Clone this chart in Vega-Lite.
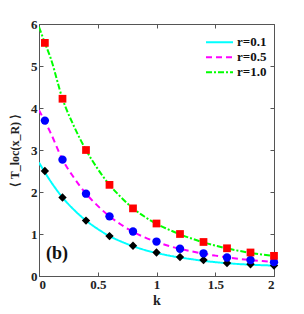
{
  "$schema": "https://vega.github.io/schema/vega-lite/v6.json",
  "autosize": {"type": "none"},
  "padding": {"left": 39, "top": 24, "right": 30, "bottom": 38},
  "width": 235,
  "height": 252,
  "background": "white",
  "config": {
    "font": "Liberation Serif",
    "view": {"stroke": "#555555", "strokeWidth": 1},
    "axis": {
      "labelFont": "Liberation Serif", "labelFontWeight": "bold", "labelFontSize": 13, "labelColor": "#222",
      "titleFont": "Liberation Serif", "titleFontWeight": "bold", "titleFontSize": 14, "titleColor": "#222",
      "grid": false, "domainColor": "#555555", "tickColor": "#555555", "tickSize": -4, "labelPadding": 6
    }
  },
  "datasets": {
    "lines": [
      {"k": 0.0, "v": 2.70, "s": "r=0.1"}, {"k": 0.1, "v": 2.25, "s": "r=0.1"}, {"k": 0.2, "v": 1.87, "s": "r=0.1"}, {"k": 0.3, "v": 1.57, "s": "r=0.1"}, {"k": 0.4, "v": 1.32, "s": "r=0.1"}, {"k": 0.5, "v": 1.12, "s": "r=0.1"}, {"k": 0.6, "v": 0.95, "s": "r=0.1"}, {"k": 0.7, "v": 0.82, "s": "r=0.1"}, {"k": 0.8, "v": 0.71, "s": "r=0.1"}, {"k": 0.9, "v": 0.62, "s": "r=0.1"}, {"k": 1.0, "v": 0.55, "s": "r=0.1"}, {"k": 1.1, "v": 0.49, "s": "r=0.1"}, {"k": 1.2, "v": 0.44, "s": "r=0.1"}, {"k": 1.3, "v": 0.40, "s": "r=0.1"}, {"k": 1.4, "v": 0.36, "s": "r=0.1"}, {"k": 1.5, "v": 0.33, "s": "r=0.1"}, {"k": 1.6, "v": 0.305, "s": "r=0.1"}, {"k": 1.7, "v": 0.285, "s": "r=0.1"}, {"k": 1.8, "v": 0.27, "s": "r=0.1"}, {"k": 1.9, "v": 0.258, "s": "r=0.1"}, {"k": 2.0, "v": 0.248, "s": "r=0.1"},
      {"k": 0.0, "v": 3.95, "s": "r=0.5"}, {"k": 0.05, "v": 3.68, "s": "r=0.5"}, {"k": 0.1, "v": 3.40, "s": "r=0.5"}, {"k": 0.2, "v": 2.77, "s": "r=0.5"}, {"k": 0.3, "v": 2.33, "s": "r=0.5"}, {"k": 0.4, "v": 1.96, "s": "r=0.5"}, {"k": 0.5, "v": 1.67, "s": "r=0.5"}, {"k": 0.6, "v": 1.42, "s": "r=0.5"}, {"k": 0.7, "v": 1.22, "s": "r=0.5"}, {"k": 0.8, "v": 1.05, "s": "r=0.5"}, {"k": 0.9, "v": 0.92, "s": "r=0.5"}, {"k": 1.0, "v": 0.81, "s": "r=0.5"}, {"k": 1.1, "v": 0.72, "s": "r=0.5"}, {"k": 1.2, "v": 0.645, "s": "r=0.5"}, {"k": 1.3, "v": 0.585, "s": "r=0.5"}, {"k": 1.4, "v": 0.53, "s": "r=0.5"}, {"k": 1.5, "v": 0.485, "s": "r=0.5"}, {"k": 1.6, "v": 0.445, "s": "r=0.5"}, {"k": 1.7, "v": 0.41, "s": "r=0.5"}, {"k": 1.8, "v": 0.38, "s": "r=0.5"}, {"k": 1.9, "v": 0.355, "s": "r=0.5"}, {"k": 2.0, "v": 0.335, "s": "r=0.5"},
      {"k": 0.0, "v": 5.93, "s": "r=1.0"}, {"k": 0.05, "v": 5.55, "s": "r=1.0"}, {"k": 0.1, "v": 5.18, "s": "r=1.0"}, {"k": 0.2, "v": 4.22, "s": "r=1.0"}, {"k": 0.3, "v": 3.55, "s": "r=1.0"}, {"k": 0.4, "v": 3.00, "s": "r=1.0"}, {"k": 0.5, "v": 2.55, "s": "r=1.0"}, {"k": 0.6, "v": 2.17, "s": "r=1.0"}, {"k": 0.7, "v": 1.87, "s": "r=1.0"}, {"k": 0.8, "v": 1.61, "s": "r=1.0"}, {"k": 0.9, "v": 1.41, "s": "r=1.0"}, {"k": 1.0, "v": 1.24, "s": "r=1.0"}, {"k": 1.1, "v": 1.11, "s": "r=1.0"}, {"k": 1.2, "v": 0.99, "s": "r=1.0"}, {"k": 1.3, "v": 0.89, "s": "r=1.0"}, {"k": 1.4, "v": 0.80, "s": "r=1.0"}, {"k": 1.5, "v": 0.725, "s": "r=1.0"}, {"k": 1.6, "v": 0.655, "s": "r=1.0"}, {"k": 1.7, "v": 0.60, "s": "r=1.0"}, {"k": 1.8, "v": 0.55, "s": "r=1.0"}, {"k": 1.9, "v": 0.51, "s": "r=1.0"}, {"k": 2.0, "v": 0.475, "s": "r=1.0"}
    ],
    "points": [
      {"k": 0.05, "v": 2.50, "s": "r=0.1"}, {"k": 0.2, "v": 1.87, "s": "r=0.1"}, {"k": 0.4, "v": 1.32, "s": "r=0.1"}, {"k": 0.6, "v": 0.95, "s": "r=0.1"}, {"k": 0.8, "v": 0.72, "s": "r=0.1"}, {"k": 1.0, "v": 0.56, "s": "r=0.1"}, {"k": 1.2, "v": 0.45, "s": "r=0.1"}, {"k": 1.4, "v": 0.38, "s": "r=0.1"}, {"k": 1.6, "v": 0.31, "s": "r=0.1"}, {"k": 1.8, "v": 0.28, "s": "r=0.1"}, {"k": 2.0, "v": 0.25, "s": "r=0.1"},
      {"k": 0.05, "v": 3.70, "s": "r=0.5"}, {"k": 0.2, "v": 2.77, "s": "r=0.5"}, {"k": 0.4, "v": 1.96, "s": "r=0.5"}, {"k": 0.6, "v": 1.42, "s": "r=0.5"}, {"k": 0.8, "v": 1.06, "s": "r=0.5"}, {"k": 1.0, "v": 0.82, "s": "r=0.5"}, {"k": 1.2, "v": 0.65, "s": "r=0.5"}, {"k": 1.4, "v": 0.54, "s": "r=0.5"}, {"k": 1.6, "v": 0.44, "s": "r=0.5"}, {"k": 1.8, "v": 0.38, "s": "r=0.5"}, {"k": 2.0, "v": 0.33, "s": "r=0.5"},
      {"k": 0.05, "v": 5.55, "s": "r=1.0"}, {"k": 0.2, "v": 4.22, "s": "r=1.0"}, {"k": 0.4, "v": 3.00, "s": "r=1.0"}, {"k": 0.6, "v": 2.17, "s": "r=1.0"}, {"k": 0.8, "v": 1.61, "s": "r=1.0"}, {"k": 1.0, "v": 1.25, "s": "r=1.0"}, {"k": 1.2, "v": 1.00, "s": "r=1.0"}, {"k": 1.4, "v": 0.81, "s": "r=1.0"}, {"k": 1.6, "v": 0.66, "s": "r=1.0"}, {"k": 1.8, "v": 0.56, "s": "r=1.0"}, {"k": 2.0, "v": 0.48, "s": "r=1.0"}
    ]
  },
  "layer": [
    {
      "data": {"name": "lines"},
      "mark": {"type": "line", "interpolate": "monotone", "strokeWidth": 2, "clip": true},
      "encoding": {
        "x": {"field": "k", "type": "quantitative", "scale": {"domain": [0, 2], "nice": false, "zero": false}, "axis": {"title": "k", "values": [0, 0.5, 1, 1.5, 2], "format": "~g", "titlePadding": 2}},
        "y": {"field": "v", "type": "quantitative", "scale": {"domain": [0, 6], "nice": false}, "axis": {"title": "⟨ T_loc(x_R) ⟩", "titleFontSize": 12, "values": [0, 1, 2, 3, 4, 5, 6], "format": "~g", "titlePadding": 9}},
        "color": {"field": "s", "type": "nominal", "scale": {"domain": ["r=0.1", "r=0.5", "r=1.0"], "range": ["#00FFFF", "#FF00FF", "#00FF00"]},
          "legend": {"title": null, "orient": "none", "legendX": 166, "legendY": 11, "symbolType": "stroke", "symbolSize": 729, "symbolStrokeWidth": 2, "labelFont": "Liberation Serif", "labelFontWeight": "bold", "labelFontSize": 13, "labelColor": "#111", "clipHeight": 14.5, "rowPadding": 0, "padding": 0, "labelOffset": 3}},
        "strokeDash": {"field": "s", "type": "nominal", "scale": {"domain": ["r=0.1", "r=0.5", "r=1.0"], "range": [[1, 0], [6, 4], [6, 2, 2, 2]]},
          "legend": {"title": null, "orient": "none", "legendX": 166, "legendY": 11, "symbolType": "stroke", "symbolSize": 729, "symbolStrokeWidth": 2, "labelFont": "Liberation Serif", "labelFontWeight": "bold", "labelFontSize": 13, "labelColor": "#111", "clipHeight": 14.5, "rowPadding": 0, "padding": 0, "labelOffset": 3}}
      }
    },
    {
      "data": {"name": "points"},
      "mark": {"type": "point", "opacity": 0},
      "encoding": {
        "x": {"field": "k", "type": "quantitative", "scale": {"domain": [0, 2], "nice": false, "zero": false}, "axis": {"orient": "top", "title": null, "labels": false, "domain": false, "values": [0, 0.5, 1, 1.5, 2]}},
        "y": {"field": "v", "type": "quantitative", "scale": {"domain": [0, 6], "nice": false}, "axis": {"orient": "right", "title": null, "labels": false, "domain": false, "values": [0, 1, 2, 3, 4, 5, 6]}}
      }
    },
    {
      "data": {"name": "points"},
      "transform": [{"filter": "datum.s === 'r=0.1'"}],
      "mark": {"type": "point", "shape": "diamond", "filled": true, "color": "black", "size": 70, "opacity": 1},
      "encoding": {
        "x": {"field": "k", "type": "quantitative", "scale": {"domain": [0, 2], "nice": false, "zero": false}, "axis": null},
        "y": {"field": "v", "type": "quantitative", "scale": {"domain": [0, 6], "nice": false}, "axis": null}
      }
    },
    {
      "data": {"name": "points"},
      "transform": [{"filter": "datum.s === 'r=0.5'"}],
      "mark": {"type": "point", "shape": "circle", "filled": true, "color": "blue", "size": 70, "opacity": 1},
      "encoding": {
        "x": {"field": "k", "type": "quantitative", "scale": {"domain": [0, 2], "nice": false, "zero": false}, "axis": null},
        "y": {"field": "v", "type": "quantitative", "scale": {"domain": [0, 6], "nice": false}, "axis": null}
      }
    },
    {
      "data": {"name": "points"},
      "transform": [{"filter": "datum.s === 'r=1.0'"}],
      "mark": {"type": "point", "shape": "square", "filled": true, "color": "red", "size": 60, "opacity": 1},
      "encoding": {
        "x": {"field": "k", "type": "quantitative", "scale": {"domain": [0, 2], "nice": false, "zero": false}, "axis": null},
        "y": {"field": "v", "type": "quantitative", "scale": {"domain": [0, 6], "nice": false}, "axis": null}
      }
    },
    {
      "data": {"values": [{}]},
      "mark": {"type": "text", "text": "(b)", "font": "Liberation Serif", "fontWeight": "bold", "fontSize": 18, "align": "left", "baseline": "middle", "color": "#111"},
      "encoding": {
        "x": {"datum": 0.06, "type": "quantitative", "axis": null},
        "y": {"datum": 0.53, "type": "quantitative", "axis": null}
      }
    }
  ],
  "resolve": {"axis": {"x": "independent", "y": "independent"}}
}
